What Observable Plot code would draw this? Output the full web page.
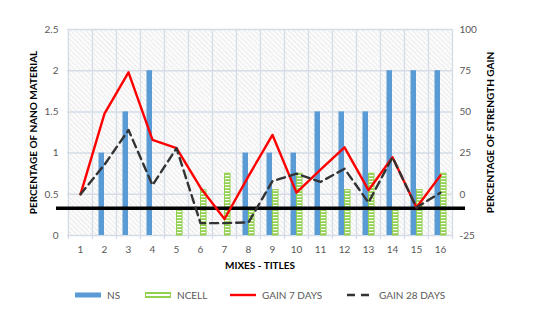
<!DOCTYPE html>
<html>
<head>
<meta charset="utf-8">
<script src="https://cdn.jsdelivr.net/npm/d3@7"></script>
<script src="https://cdn.jsdelivr.net/npm/@observablehq/plot@0.6"></script>
<style>
  html, body { margin: 0; padding: 0; background: #fff; }
  #chart { position: relative; width: 542px; height: 316px; font-family: Lato, "Open Sans", sans-serif; }
  #legend { position: absolute; left: 0; top: 283px; width: 542px; height: 24px; }
  .item { position: absolute; top: 0; height: 24px; display: flex; align-items: center; font-size: 10px; color: #595959; }
  .item svg { margin-right: 4px; }
</style>
</head>
<body>
<div id="chart"></div>
<script>
// ---- data ----
const mixes   = [1, 2, 3, 4, 5, 6, 7, 8, 9, 10, 11, 12, 13, 14, 15, 16];
const ns      = [0, 1, 1.5, 2, 0, 0, 0, 1, 1, 1, 1.5, 1.5, 1.5, 2, 2, 2];
const ncell   = [0, 0, 0, 0, 0.3, 0.55, 0.75, 0.3, 0.55, 0.75, 0.3, 0.55, 0.75, 0.3, 0.55, 0.75];
const gain7   = [0, 49, 74, 33, 28, 4, -15, 11, 36, 1, 15, 28.5, 2.5, 22.5, -8, 11.5];
const gain28  = [0, 18, 39, 5.5, 28, -17.5, -17.5, -17, 8, 12.5, 7.5, 15.5, -5, 22.5, -8, 1];
const leftTicks  = [0, 0.5, 1, 1.5, 2, 2.5];
const rightTicks = [-25, 0, 25, 50, 75, 100];
const threshold  = 0.33;   // thick black reference line (left-axis units)
const seriesNames = ["NS", "NCELL", "GAIN 7 DAYS", "GAIN 28 DAYS"];
const titles = {
  left: "PERCENTAGE OF NANO MATERIAL",
  right: "PERCENTAGE OF STRENGTH GAIN",
  x: "MIXES - TITLES"
};

// right axis (-25..100) maps onto left axis (0..2.5)
const toLeft = v => v / 50 + 0.5;

const rows = mixes.map((m, i) => ({mix: m, ns: ns[i], ncell: ncell[i], g7: gain7[i], g28: gain28[i]}));

const W = 542, H = 280;
const mL = 67, mR = 90, mT = 29, mB = 45;
const bw = (W - mL - mR) / mixes.length;
const gridColor = "#d5dce6";

const svg = Plot.plot({
  width: W, height: H,
  marginLeft: mL, marginRight: mR, marginTop: mT, marginBottom: mB,
  style: {fontFamily: "Lato, 'Open Sans', sans-serif", fontSize: "10px", color: "#595959", background: "transparent", overflow: "visible"},
  x: {type: "band", domain: mixes, paddingInner: 0, paddingOuter: 0, label: null},
  y: {domain: [0, 2.5], label: null},
  marks: [
    Plot.frame({fill: "url(#hatch)", stroke: "none"}),
    Plot.ruleY(leftTicks, {stroke: gridColor, strokeWidth: 1.5}),
    Plot.ruleX(mixes, {x: d => d, dx: -bw / 2, stroke: gridColor, strokeWidth: 1.3, insetBottom: -4}),
    Plot.ruleX([mixes[mixes.length - 1]], {x: d => d, dx: bw / 2, stroke: gridColor, strokeWidth: 1.3, insetBottom: -4}),
    Plot.barY(rows.filter(d => d.ns > 0), {x: "mix", y: "ns", fill: "#5b9bd5", insetLeft: 6.5, insetRight: 12}),
    Plot.barY(rows.filter(d => d.ncell > 0), {x: "mix", y: "ncell", fill: "url(#stripes)", stroke: "#92d050", strokeWidth: 1, insetLeft: 12.5, insetRight: 6}),
    Plot.ruleY([threshold], {stroke: "#000", strokeWidth: 3.5, insetLeft: -11, insetRight: -13}),
    Plot.lineY(rows, {x: "mix", y: d => toLeft(d.g7), stroke: "#ff0000", strokeWidth: 2.4}),
    Plot.lineY(rows, {x: "mix", y: d => toLeft(d.g28), stroke: "#333", strokeWidth: 2.4, strokeDasharray: "8,5"}),
    Plot.axisY(leftTicks, {anchor: "left", tickSize: 0, tickPadding: 9, tickFormat: d => String(d), label: null}),
    Plot.axisY(rightTicks.map(toLeft), {anchor: "right", tickSize: 0, tickPadding: 7, tickFormat: d => String(Math.round((d - 0.5) * 50)), label: null}),
    Plot.axisX(mixes, {tickSize: 0, tickPadding: 10, label: null}),
    Plot.text([titles.left], {text: d => d, frameAnchor: "left", textAnchor: "middle", dx: -34, rotate: -90, fontWeight: "bold", fill: "#000", fontSize: 10}),
    Plot.text([titles.right], {text: d => d, frameAnchor: "right", textAnchor: "middle", dx: 38, rotate: -90, fontWeight: "bold", fill: "#000", fontSize: 10}),
    Plot.text([titles.x], {text: d => d, frameAnchor: "bottom", dy: 33, fontWeight: "bold", fill: "#000", fontSize: 10})
  ]
});

// patterns: hatched background, striped green bars
const defs = d3.select(svg).insert("defs", ":first-child");
const hatch = defs.append("pattern").attr("id", "hatch").attr("patternUnits", "userSpaceOnUse")
  .attr("width", 3.5).attr("height", 3.5).attr("patternTransform", "rotate(-45)");
hatch.append("rect").attr("width", 3.5).attr("height", 3.5).attr("fill", "#fbfbfb");
hatch.append("line").attr("x1", 0).attr("y1", 0).attr("x2", 0).attr("y2", 3.5).attr("stroke", "#dedede").attr("stroke-width", 1);
const stripes = defs.append("pattern").attr("id", "stripes").attr("patternUnits", "userSpaceOnUse")
  .attr("width", 4).attr("height", 3);
stripes.append("rect").attr("width", 4).attr("height", 3).attr("fill", "#92d050");
stripes.append("rect").attr("y", 1).attr("width", 4).attr("height", 1.2).attr("fill", "#ffffff");

const chart = document.getElementById("chart");
chart.appendChild(svg);

// legend
const legend = document.createElement("div");
legend.id = "legend";
const swatches = [
  {left: 75, svg: `<rect x="0" y="9.5" width="26" height="5" fill="#5b9bd5"/>`},
  {left: 145, svg: `<rect x="0.5" y="9.5" width="25" height="5" fill="url(#stripesL)" stroke="#92d050" stroke-width="1"/>`},
  {left: 230, svg: `<line x1="0" y1="12" x2="26" y2="12" stroke="#ff0000" stroke-width="2.4"/>`},
  {left: 347, svg: `<line x1="0" y1="12" x2="28" y2="12" stroke="#333" stroke-width="2.4" stroke-dasharray="8,6"/>`}
];
legend.innerHTML = `<svg width="0" height="0" style="position:absolute"><defs>
  <pattern id="stripesL" patternUnits="userSpaceOnUse" width="4" height="3">
  <rect width="4" height="3" fill="#ffffff"/><rect y="1" width="4" height="1" fill="#92d050"/></pattern></defs></svg>` +
  seriesNames.map((name, i) => `<div class="item" style="left:${swatches[i].left}px"><svg width="28" height="24">${swatches[i].svg}</svg><span>${name}</span></div>`).join("");
chart.appendChild(legend);
</script>
</body>
</html>
